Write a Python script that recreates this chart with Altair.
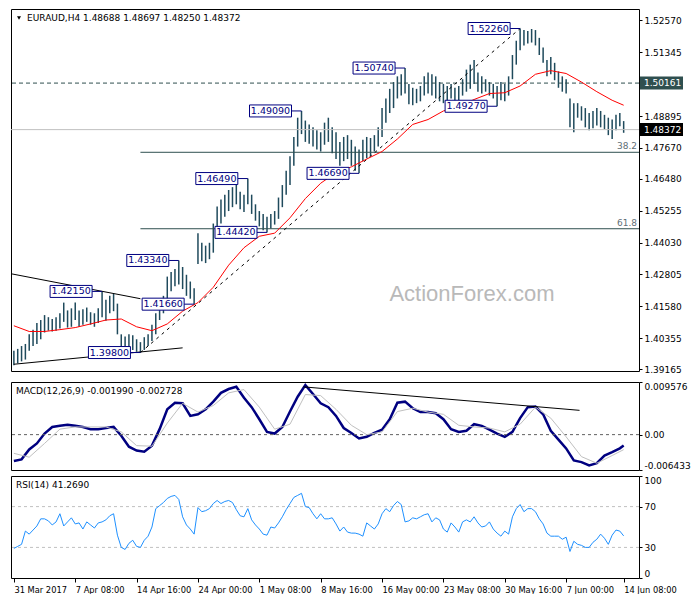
import altair as alt
import pandas as pd

# ---------------- data ----------------
# H4 price bars, one entry per bar, prices in 1e-4 units (pips)
high_pips = [
    13987, 13994, 14005, 14013, 14050, 14068, 14094, 14105, 14124, 14116,
    14109, 14116, 14131, 14172, 14142, 14150, 14172, 14142, 14146, 14153,
    14135, 14131, 14150, 14215, 14183, 14198, 14205, 14168, 14050, 14042,
    14050, 14046, 14031, 14020, 14039, 14050, 14087, 14131, 14179, 14198,
    14272, 14290, 14301, 14334, 14309, 14279, 14253, 14227, 14439, 14402,
    14391, 14402, 14476, 14542, 14568, 14587, 14605, 14616, 14631, 14598,
    14587, 14649, 14587, 14550, 14524, 14513, 14502, 14513, 14524, 14576,
    14624, 14679, 14735, 14809, 14883, 14909, 14872, 14857, 14846, 14835,
    14827, 14864, 14883, 14846, 14827, 14790, 14809, 14816, 14798, 14772,
    14761, 14798, 14809, 14805, 14816, 14846, 14920, 14957, 14994, 15020,
    15042, 15050, 15074, 15013, 14998, 14994, 15005, 15042, 15057, 15050,
    15042, 15020, 15013, 15005, 15013, 14998, 15005, 15031, 15068, 15087,
    15105, 15057, 15042, 15031, 15020, 15013, 15005, 15020, 15013, 15042,
    15124, 15179, 15226, 15220, 15216, 15224, 15220, 15190, 15153, 15105,
    15116, 15094, 15061, 15042, 15031, 14957, 14939, 14939, 14927, 14920,
    14901, 14909, 14920, 14909, 14894, 14883, 14876, 14894, 14901, 14870,
]
low_pips = [
    13931, 13939, 13946, 13953, 13987, 14005, 14013, 14031, 14057, 14064,
    14061, 14064, 14072, 14098, 14076, 14079, 14105, 14079, 14087, 14098,
    14087, 14079, 14094, 14116, 14102, 14131, 14139, 14050, 13990, 13987,
    13994, 13990, 13983, 13980, 13990, 14005, 14024, 14050, 14105, 14131,
    14179, 14216, 14235, 14242, 14224, 14198, 14187, 14166, 14320, 14331,
    14324, 14339, 14364, 14420, 14476, 14502, 14524, 14539, 14550, 14531,
    14520, 14550, 14513, 14487, 14465, 14450, 14442, 14457, 14472, 14494,
    14539, 14587, 14624, 14698, 14772, 14820, 14790, 14783, 14772, 14761,
    14753, 14779, 14790, 14746, 14724, 14698, 14716, 14724, 14698, 14679,
    14669, 14716, 14727, 14735, 14753, 14772, 14809, 14864, 14901, 14920,
    14957, 14968, 14976, 14935, 14931, 14939, 14946, 14968, 14976, 14968,
    14957, 14946, 14939, 14946, 14957, 14939, 14950, 14968, 14983, 14994,
    15013, 14983, 14976, 14983, 14968, 14957, 14927, 14950, 14946, 14968,
    15031, 15087, 15142, 15161, 15168, 15172, 15161, 15124, 15094, 15042,
    15050, 15027, 14998, 14983, 14976, 14846, 14827, 14883, 14872, 14846,
    14835, 14842, 14853, 14846, 14838, 14816, 14801, 14835, 14850, 14825,
]

# red moving average (sampled every 4 bars + last bar), 1e-4 units
ma_bars = list(range(0, 160, 4)) + [159]
ma_pips = [
    14083, 14061, 14061, 14068, 14076, 14090, 14105, 14109, 14079, 14064,
    14090, 14139, 14172, 14231, 14316, 14383, 14427, 14439, 14498, 14572,
    14631, 14672, 14694, 14724, 14753, 14801, 14857, 14876, 14909, 14927,
    14953, 14976, 14979, 15005, 15050, 15064, 15053, 15020, 14983, 14950,
    14931,
]

# MACD main line (every 2 bars + last), 1e-4 units
macd_bars = list(range(0, 160, 2)) + [159]
macd_e4 = [
    -48, -45, -27, -16, 2, 14, 16, 18, 16, 14,
    10, 10, 12, 14, -2, -22, -29, -31, -20, 10,
    46, 58, 57, 34, 37, 46, 60, 76, 83, 87,
    67, 50, 28, 5, 2, 14, 42, 69, 90, 74,
    57, 50, 34, 12, 3, -7, -4, 3, 9, 28,
    58, 60, 48, 41, 41, 39, 28, 10, 5, 7,
    19, 16, 9, 2, -4, 5, 30, 50, 51, 37,
    7, -9, -25, -47, -50, -56, -52, -38, -32, -25,
    -19.9,
]
# MACD signal line (every 4 bars + last), 1e-4 units
signal_bars = list(range(0, 160, 4)) + [159]
signal_e4 = [
    -34, -41, -16, 10, 14, 14, 14, 5, -20, -21,
    21, 57, 41, 53, 76, 82, 50, 10, 19, 73,
    71, 46, 17, 0, 5, 42, 48, 41, 37, 17,
    14, 12, 5, 19, 50, 30, -4, -40, -52, -38,
    -27.3,
]

# RSI(14), one per bar
rsi_vals = [
    29, 31, 33, 46, 43, 47, 51, 58, 58, 56,
    52, 55, 63, 51, 55, 59, 53, 54, 48, 55,
    52, 49, 54, 55, 57, 61, 63, 42, 30, 28,
    34, 37, 31, 30, 37, 41, 50, 68, 71, 74,
    78, 80, 81, 77, 60, 52, 48, 43, 69, 65,
    66, 68, 73, 76, 73, 75, 76, 74, 67, 61,
    60, 68, 57, 52, 48, 43, 42, 50, 49, 54,
    60, 67, 73, 79, 81, 83, 70, 69, 63, 58,
    63, 58, 58, 59, 53, 46, 50, 45, 44, 44,
    43, 41, 54, 51, 48, 53, 63, 68, 65, 71,
    75, 72, 55, 56, 59, 58, 60, 62, 63, 55,
    59, 57, 48, 45, 54, 50, 45, 55, 57, 55,
    60, 54, 50, 51, 55, 48, 44, 41, 46, 43,
    60, 68, 72, 65, 68, 68, 65, 58, 53, 44,
    41, 41, 41, 38, 40, 26, 36, 33, 32, 30,
    30, 35, 38, 43, 39, 33, 42, 47, 46, 41.269,
]

# swing labels
ann_price = [1.52260, 1.50740, 1.49270, 1.49090, 1.46690, 1.46490,
             1.44420, 1.43340, 1.42150, 1.41660, 1.39800]
ann_bar = [132, 102, 126, 75, 90, 61, 66, 43, 23, 47, 33]

level_dashed = 1.50161
level_bid = 1.48372
fib_levels = [1.4750, 1.4456]
fib_labels = ["38.2", "61.8"]
fib_start_bar = 33

# trend lines (bar index, price)
solid_lines = {"x": [-0.75, 0], "x2": [33, 44], "y": [1.4283, 1.3935], "y2": [1.4187, 1.3998]}
dashed_lines = {"x": [33], "x2": [132], "y": [1.3980], "y2": [1.5226]}
macd_line = {"x": [75.5], "x2": [147.5], "y": [0.00869], "y2": [0.00442]}

price_ticks = [1.52570, 1.51345, 1.48895, 1.47670, 1.46480, 1.45255,
               1.44030, 1.42805, 1.41580, 1.40355, 1.39165]
macd_ticks = [-0.006433, 0.0, 0.009576]
rsi_ticks = [0, 30, 70, 100]
time_ticks = [0, 16, 32, 48, 64, 80, 96, 112, 128, 144, 159]
time_labels = ["31 Mar 2017", "7 Apr 08:00", "14 Apr 16:00", "24 Apr 00:00",
               "1 May 08:00", "8 May 16:00", "16 May 00:00", "23 May 08:00",
               "30 May 16:00", "7 Jun 00:00", "14 Jun 08:00"]

header_text = "EURAUD,H4  1.48688 1.48697 1.48250 1.48372"
macd_text = "MACD(12,26,9) -0.001990 -0.002728"
rsi_text = "RSI(14) 41.2690"

# ---------------- layout / style ----------------
W = 628
H_PRICE, H_MACD, H_RSI = 362, 88, 102
FONT = "DejaVu Sans"
BAR_COLOR = "#1f4a5c"
NAVY = "#000080"
SLATE = "#2F4F4F"

xdom = [-0.75, 163]
xs = alt.Scale(domain=xdom, nice=False, zero=False)
ps = alt.Scale(domain=[1.3909, 1.5301], nice=False, zero=False)
ms = alt.Scale(domain=[-0.006433, 0.009576], nice=False, zero=False)
rs = alt.Scale(domain=[0, 100], nice=False, zero=False)

price_axis = alt.Axis(orient="right", values=price_ticks, format=".5f", tickSize=3,
                      labelPadding=2, domain=False, grid=False, title=None)
macd_axis = alt.Axis(orient="right", values=macd_ticks, tickSize=3, labelPadding=2,
                     labelFlush=True, domain=False, grid=False, title=None,
                     labelExpr="datum.value > 0.005 ? '0.009576' : (datum.value < -0.005 ? '-0.006433' : '0.00')")
rsi_axis = alt.Axis(orient="right", values=rsi_ticks, format="d", tickSize=3, labelPadding=2,
                    labelFlush=True, domain=False, grid=False, title=None)


def X(f="i"):
    return alt.X(f"{f}:Q", scale=xs, axis=None, title=None)


def Yp(f):
    return alt.Y(f"{f}:Q", scale=ps, axis=price_axis, title=None)


def Ym(f):
    return alt.Y(f"{f}:Q", scale=ms, axis=macd_axis, title=None)


def Yr(f):
    return alt.Y(f"{f}:Q", scale=rs, axis=rsi_axis, title=None)


bars = pd.DataFrame({"i": list(range(len(high_pips))),
                     "high": [v / 1e4 for v in high_pips],
                     "low": [v / 1e4 for v in low_pips]})
ma = pd.DataFrame({"i": ma_bars, "ma": [v / 1e4 for v in ma_pips]})
ann = pd.DataFrame({"i": ann_bar, "p": ann_price, "lab": [f"{v:.5f}" for v in ann_price]})

p_bars = alt.Chart(bars).mark_rule(color=BAR_COLOR, strokeWidth=1.5).encode(
    x=X(), y=Yp("low"), y2="high:Q")
p_dash = alt.Chart(pd.DataFrame({"p": [level_dashed]})).mark_rule(
    color=SLATE, strokeDash=[4, 3], strokeWidth=1).encode(y=Yp("p"))
p_bid = alt.Chart(pd.DataFrame({"p": [level_bid]})).mark_rule(
    color="#c0c0c0", strokeWidth=1).encode(y=Yp("p"))
fib_df = pd.DataFrame({"p": fib_levels, "lab": fib_labels,
                       "x0": [fib_start_bar] * len(fib_levels), "x1": [xdom[1]] * len(fib_levels)})
p_fib = alt.Chart(fib_df).mark_rule(color=SLATE, strokeWidth=1).encode(
    x=X("x0"), x2="x1:Q", y=Yp("p"))
p_fibt = alt.Chart(fib_df).mark_text(align="right", baseline="bottom", dx=-2, dy=-1,
                                     font=FONT, fontSize=9, color="#5f6f77").encode(
    x=X("x1"), y=Yp("p"), text="lab:N")
p_solid = alt.Chart(pd.DataFrame(solid_lines)).mark_rule(color="black", strokeWidth=1).encode(
    x=X("x"), x2="x2:Q", y=Yp("y"), y2="y2:Q")
p_dashed = alt.Chart(pd.DataFrame(dashed_lines)).mark_rule(
    color="black", strokeWidth=1, strokeDash=[3, 4]).encode(
    x=X("x"), x2="x2:Q", y=Yp("y"), y2="y2:Q")
p_ma = alt.Chart(ma).mark_line(color="#ff0000", strokeWidth=1).encode(x=X(), y=Yp("ma"))
p_conn = alt.Chart(ann).mark_rule(color=NAVY, strokeWidth=1, x2Offset=-10).encode(
    x=X(), x2="i:Q", y=Yp("p"), y2="p:Q")
p_box = alt.Chart(ann).mark_rect(fill="white", stroke=NAVY, strokeWidth=1,
                                 xOffset=-52, x2Offset=-10, yOffset=-6, y2Offset=6).encode(
    x=X(), x2="i:Q", y=Yp("p"), y2="p:Q")
p_boxt = alt.Chart(ann).mark_text(align="center", baseline="middle", dx=-31, font=FONT,
                                  fontSize=9.5, color=NAVY).encode(x=X(), y=Yp("p"), text="lab:N")
p_head = alt.Chart(pd.DataFrame({"t": [header_text]})).mark_text(
    align="left", baseline="middle", font=FONT, fontSize=9, color="black").encode(
    x=alt.value(16), y=alt.value(9), text="t:N")
p_tri = alt.Chart(pd.DataFrame({"k": [0]})).mark_point(
    shape="triangle-down", filled=True, size=16, color="black", opacity=1).encode(
    x=alt.value(8), y=alt.value(9))
p_wm = alt.Chart(pd.DataFrame({"t": ["ActionForex.com"]})).mark_text(
    align="center", baseline="middle", font="Liberation Sans", fontSize=22,
    color="#b9b9b9").encode(x=alt.value(W * 0.734), y=alt.value(H_PRICE * 0.787), text="t:N")
hi_df = pd.DataFrame({"p": [level_dashed, level_bid],
                      "lab": [f"{level_dashed:.5f}", f"{level_bid:.5f}"],
                      "bg": [SLATE, "#000000"]})
p_hib = alt.Chart(hi_df).mark_rect(yOffset=-6.5, y2Offset=6.5).encode(
    x=alt.value(W + 1), x2=alt.value(W + 44), y=Yp("p"), y2="p:Q",
    color=alt.Color("bg:N", scale=None))
p_hit = alt.Chart(hi_df).mark_text(align="left", baseline="middle", font=FONT, fontSize=9,
                                   color="white").encode(
    x=alt.value(W + 5), y=Yp("p"), text="lab:N")

price = alt.layer(p_bars, p_dash, p_bid, p_fib, p_fibt, p_solid, p_dashed, p_ma,
                  p_conn, p_box, p_boxt, p_head, p_tri, p_wm, p_hib, p_hit).properties(
    width=W, height=H_PRICE)

# ---------------- MACD ----------------
macd_df = pd.DataFrame({"i": macd_bars, "v": [v / 1e4 for v in macd_e4]})
sig_df = pd.DataFrame({"i": signal_bars, "v": [v / 1e4 for v in signal_e4]})
m_main = alt.Chart(macd_df).mark_line(color=NAVY, strokeWidth=2.5).encode(x=X(), y=Ym("v"))
m_zero = alt.Chart(pd.DataFrame({"v": [0.0]})).mark_rule(
    color="#606060", strokeDash=[3, 3], strokeWidth=1).encode(y=Ym("v"))
m_sig = alt.Chart(sig_df).mark_line(color="#c0c0c0", strokeWidth=1).encode(x=X(), y=Ym("v"))
m_trend = alt.Chart(pd.DataFrame(macd_line)).mark_rule(color="black", strokeWidth=1).encode(
    x=X("x"), x2="x2:Q", y=Ym("y"), y2="y2:Q")
m_text = alt.Chart(pd.DataFrame({"t": [macd_text]})).mark_text(
    align="left", baseline="middle", font=FONT, fontSize=9, color="black").encode(
    x=alt.value(5), y=alt.value(9), text="t:N")
macd = alt.layer(m_main, m_zero, m_sig, m_trend, m_text).properties(width=W, height=H_MACD)

# ---------------- RSI ----------------
rsi_df = pd.DataFrame({"i": list(range(len(rsi_vals))), "v": rsi_vals})
time_expr = " ".join(f"datum.value == {t} ? '{l}' :" for t, l in zip(time_ticks, time_labels)) + " ''"
x_axis = alt.Axis(values=time_ticks, labelExpr=time_expr, labelAlign="left", labelPadding=3,
                  tickSize=4, labelFlush=False, labelOverlap=False, domain=False, grid=False,
                  labelFontSize=8.3, title=None)
r_line = alt.Chart(rsi_df).mark_line(color="#1E90FF", strokeWidth=1).encode(
    x=alt.X("i:Q", scale=xs, axis=x_axis, title=None), y=Yr("v"))
r_lv = alt.Chart(pd.DataFrame({"v": [30, 70]})).mark_rule(
    color="#c0c0c0", strokeDash=[3, 3], strokeWidth=1).encode(y=Yr("v"))
r_text = alt.Chart(pd.DataFrame({"t": [rsi_text]})).mark_text(
    align="left", baseline="middle", font=FONT, fontSize=9, color="black").encode(
    x=alt.value(5), y=alt.value(9), text="t:N")
rsi = alt.layer(r_lv, r_line, r_text).properties(width=W, height=H_RSI)

chart = alt.vconcat(price, macd, rsi, spacing=4).properties(
    padding=0, background="white"
).configure_view(stroke="black", strokeWidth=1).configure_axis(
    labelFont=FONT, labelFontSize=9, labelColor="black", tickColor="black", tickWidth=1
)

chart.save("out.html", embed_options={"renderer": "svg", "actions": False})
